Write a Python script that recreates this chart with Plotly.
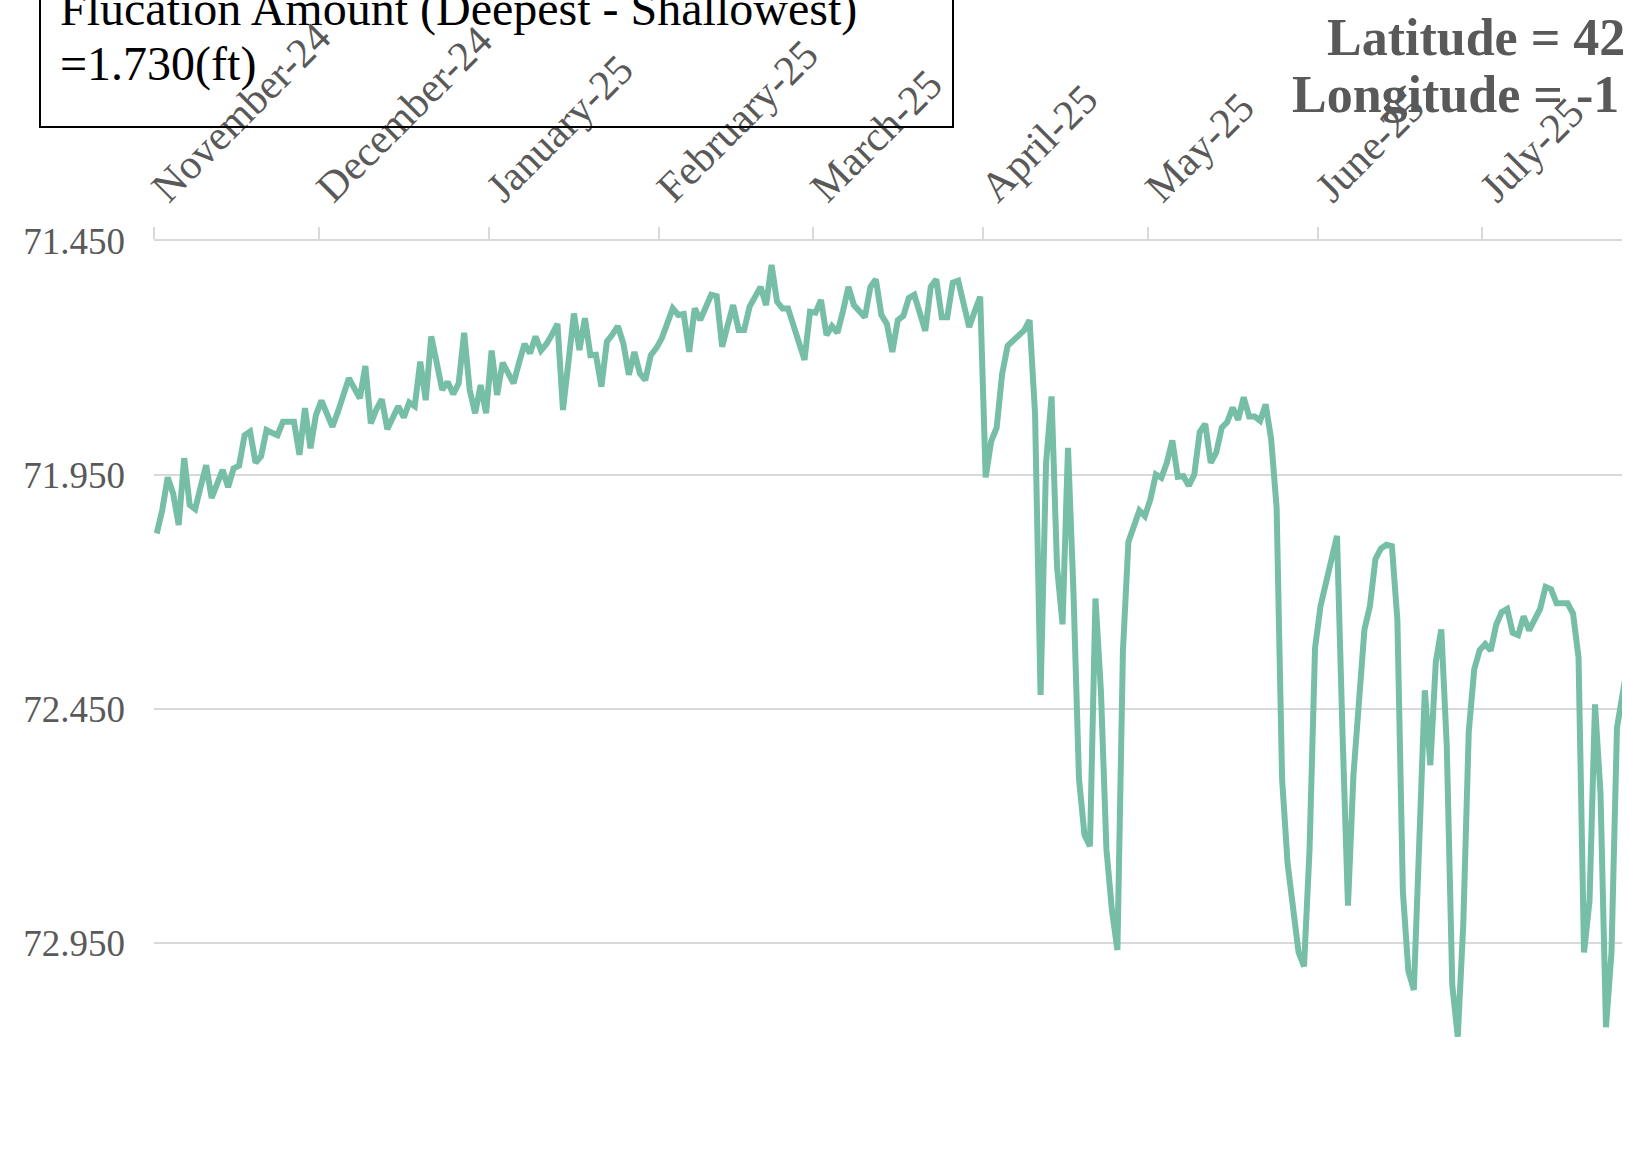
import plotly.graph_objects as go
import pandas as pd

# Daily depth to water (ft), starting 2024-11-01
depth_ft = [
    72.075, 72.025, 71.955, 71.990, 72.057, 71.914, 72.014, 72.023, 71.975, 71.929,
    71.999, 71.968, 71.939, 71.976, 71.936, 71.930, 71.865, 71.857, 71.924, 71.910,
    71.854, 71.860, 71.865, 71.836, 71.836, 71.836, 71.907, 71.807, 71.893, 71.822,
    71.791, 71.820, 71.847, 71.815, 71.780, 71.743, 71.765, 71.786, 71.717, 71.840,
    71.810, 71.788, 71.852, 71.830, 71.803, 71.827, 71.795, 71.803, 71.708, 71.790,
    71.654, 71.710, 71.768, 71.751, 71.777, 71.754, 71.646, 71.768, 71.818, 71.758,
    71.818, 71.684, 71.779, 71.710, 71.730, 71.754, 71.710, 71.670, 71.690, 71.654,
    71.684, 71.670, 71.650, 71.627, 71.811, 71.700, 71.605, 71.683, 71.615, 71.694,
    71.693, 71.761, 71.665, 71.650, 71.632, 71.669, 71.736, 71.687, 71.733, 71.747,
    71.694, 71.679, 71.658, 71.626, 71.594, 71.608, 71.606, 71.687, 71.594, 71.619,
    71.590, 71.565, 71.568, 71.676, 71.630, 71.587, 71.640, 71.640, 71.590, 71.570,
    71.548, 71.587, 71.501, 71.580, 71.594, 71.594, 71.630, 71.660, 71.704, 71.601,
    71.603, 71.576, 71.651, 71.632, 71.646, 71.600, 71.548, 71.587, 71.601, 71.613,
    71.548, 71.532, 71.608, 71.627, 71.687, 71.619, 71.610, 71.572, 71.565, 71.600,
    71.642, 71.548, 71.532, 71.613, 71.613, 71.539, 71.535, 71.585, 71.634, 71.600,
    71.569, 71.955, 71.878, 71.849, 71.734, 71.674, 71.663, 71.652, 71.641, 71.619,
    71.820, 72.420, 71.925, 71.782, 72.146, 72.269, 71.892, 72.203, 72.599, 72.719,
    72.743, 72.214, 72.413, 72.750, 72.880, 72.965, 72.327, 72.093, 72.060, 72.026,
    72.038, 72.002, 71.949, 71.956, 71.924, 71.876, 71.954, 71.952, 71.973, 71.949,
    71.858, 71.841, 71.924, 71.902, 71.849, 71.837, 71.806, 71.832, 71.784, 71.825,
    71.825, 71.834, 71.799, 71.873, 72.020, 72.600, 72.780, 72.870, 72.970, 73.000,
    72.750, 72.320, 72.230, 72.180, 72.130, 72.080, 72.500, 72.870, 72.590, 72.440,
    72.280, 72.230, 72.130, 72.107, 72.099, 72.102, 72.260, 72.840, 73.010, 73.050,
    72.750, 72.410, 72.570, 72.350, 72.280, 72.530, 73.040, 73.150, 72.911, 72.499,
    72.365, 72.324, 72.311, 72.325, 72.270, 72.243, 72.236, 72.287, 72.292, 72.252,
    72.282, 72.258, 72.236, 72.189, 72.194, 72.224, 72.224, 72.224, 72.246, 72.340,
    72.970, 72.860, 72.440, 72.630, 73.130, 72.970, 72.490, 72.410, 72.350,
]
dates = pd.date_range("2024-11-01 12:00", periods=len(depth_ft), freq="D")

fluct_lines = ["Flucation Amount (Deepest - Shallowest)", "=1.730(ft)"]
coord_lines = ["Latitude = 42", "Longitude = -1"]

W, H = 1628, 1153
ML, MR, MT, MB = 154, 6, 241, 40
PW, PH = W - ML - MR, H - MT - MB

def px(x):
    return (x - ML) / PW

def py(y):
    return 1 - (y - MT) / PH

FONT = "Liberation Serif, Times New Roman, serif"
GRAY = "#595959"
GRID = "#d9d9d9"

fig = go.Figure()
fig.add_trace(go.Scatter(
    x=dates, y=depth_ft, mode="lines",
    line=dict(color="#77BEA6", width=6),
    showlegend=False, hoverinfo="x+y",
))

fig.update_layout(
    width=W, height=H, template="none",
    margin=dict(l=ML, r=MR, t=MT, b=MB, pad=0),
    paper_bgcolor="white", plot_bgcolor="white",
    font=dict(family=FONT, color=GRAY),
    showlegend=False,
)
fig.update_xaxes(
    type="date", side="top",
    range=["2024-11-01", "2025-07-26 10:00"],
    tick0="2024-11-01", dtick="M1", tickformat="%B-%y",
    tickangle=-45, ticks="outside", ticklen=12, tickwidth=1.5, tickcolor=GRID,
    showgrid=False, showline=True, linecolor=GRID, linewidth=1.5,
    zeroline=False, automargin=False,
    tickfont=dict(family=FONT, size=42, color=GRAY),
)
fig.update_yaxes(
    range=[71.45 + PH / 468.0, 71.45],
    tick0=71.45, dtick=0.5, tickformat=".3f",
    showgrid=True, gridcolor=GRID, gridwidth=1.5,
    zeroline=False, showline=False, ticks="",
    ticklabelstandoff=28, automargin=False,
    tickfont=dict(family=FONT, size=37, color=GRAY),
)

# Fluctuation box
fig.add_shape(type="rect", xref="paper", yref="paper",
              x0=px(40), x1=px(953), y0=py(127), y1=py(-20),
              line=dict(color="black", width=2), fillcolor="rgba(0,0,0,0)")
for txt, base in zip(fluct_lines, [25, 80]):
    fig.add_annotation(xref="paper", yref="paper", x=px(58), y=py(base - 16),
                       xanchor="left", yanchor="middle", showarrow=False,
                       text=txt, font=dict(family=FONT, size=48, color="black"))

for txt, left, base in zip(coord_lines, [1325, 1290], [55, 112]):
    fig.add_annotation(xref="paper", yref="paper", x=px(left), y=py(base - 17.5),
                       xanchor="left", yanchor="middle", showarrow=False,
                       text="<b>" + txt + "</b>",
                       font=dict(family=FONT, size=52, color=GRAY))

fig.write_html("out.html",
               config={"displayModeBar": False},
               post_script="document.body.style.margin='0';document.body.style.overflow='hidden';")
